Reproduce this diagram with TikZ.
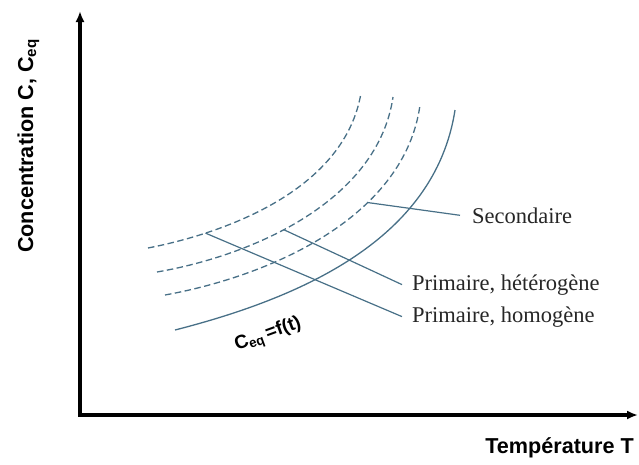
\documentclass[tikz,border=0pt]{standalone}
\usepackage{fontspec}
\setmainfont{Liberation Serif}
\setsansfont{Liberation Sans}
\usetikzlibrary{arrows.meta}
\definecolor{curvecol}{RGB}{72,112,135}
\begin{document}
\begin{tikzpicture}[x=1pt,y=-1pt,
  axisline/.style={line width=3.4pt, line join=miter, {Latex[length=11pt,width=9pt]}-{Latex[length=11pt,width=9pt]}},
  curveline/.style={draw=curvecol, line width=1.3pt},
  dashcurve/.style={curveline, dash pattern=on 6.5pt off 3.5pt},
  leader/.style={draw=curvecol, line width=1.2pt},
  lab/.style={font=\fontsize{22.5}{27}\selectfont, inner sep=0pt, text=black!85},
  axlab/.style={font=\sffamily\bfseries\fontsize{21.6}{26}\selectfont, inner sep=0pt}]
\useasboundingbox (0,0) rectangle (639,464);
% axes
\coordinate (ytip) at (80,11);
\coordinate (O) at (80,415);
\coordinate (xtip) at (638,415);
\draw[axisline] (ytip) -- (O) -- (xtip);
\node[axlab, rotate=90, anchor=base west] (ylab) at (33,253) {Concentration C, C\textsubscript{eq}};
\node[axlab, anchor=base east] (xlab) at (634,453) {Température T};
% curves
\draw[dashcurve] (148,248) .. controls (230,232) and (345,188) .. (361,93) coordinate[pos=0.22] (p3);
\draw[dashcurve] (157,272) .. controls (255,255) and (378,200) .. (393,97) coordinate[pos=0.42] (p2);
\draw[dashcurve] (165,295) .. controls (275,275) and (405,215) .. (420,105) coordinate[pos=0.65] (p1);
\draw[curveline] (175,330) .. controls (300,298) and (435,240) .. (455,110);
% labels
\node[lab, anchor=base west] (sec) at (472,223) {Secondaire};
\node[lab, anchor=base west] (het) at (412,290) {Primaire, hétérogène};
\node[lab, anchor=base west] (hom) at (412,322) {Primaire, homogène};
\draw[leader] (p1) -- ([xshift=-12pt]sec.west);
\draw[leader] (p2) -- ([xshift=-10pt]het.west);
\draw[leader] (p3) -- ([xshift=-10pt]hom.west);
\node[font=\sffamily\bfseries\fontsize{19}{22}\selectfont, rotate=20, anchor=base west, inner sep=0pt] (ceq) at (237,351) {C\textsubscript{eq}\hspace{3pt}=f(t)};
\end{tikzpicture}
\end{document}
